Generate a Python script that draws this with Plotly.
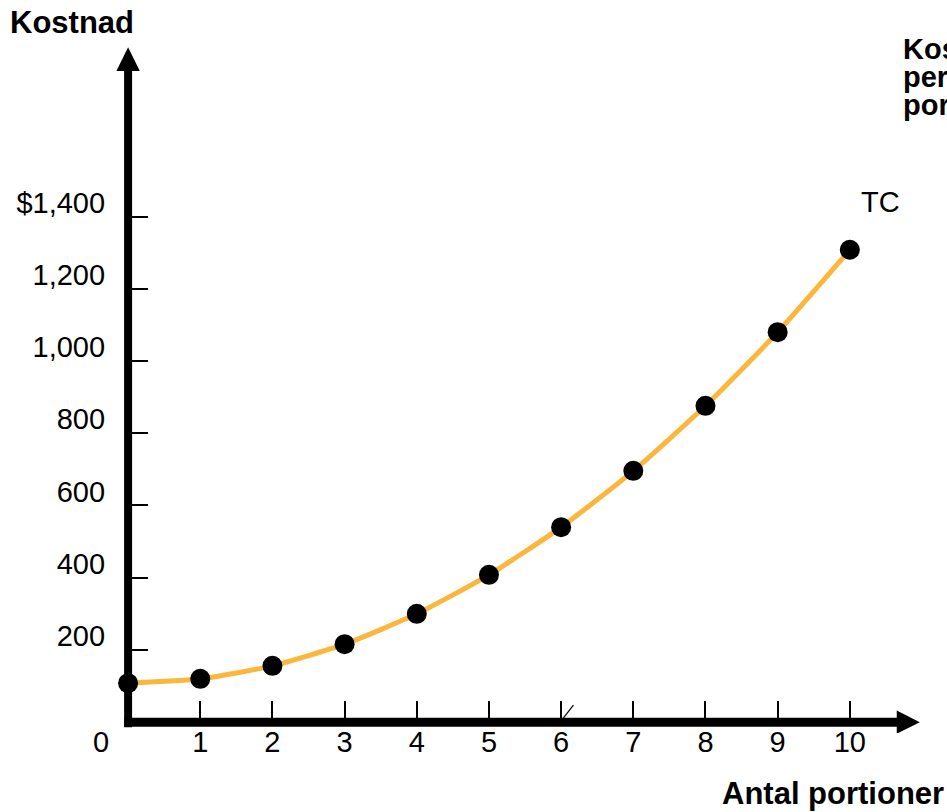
import plotly.graph_objects as go

# Total cost of producing salsa, by number of portions
portions = [0, 1, 2, 3, 4, 5, 6, 7, 8, 9, 10]
total_cost = [108, 120, 156, 216, 300, 408, 540, 696, 876, 1080, 1308]

x_tick_vals = [1, 2, 3, 4, 5, 6, 7, 8, 9, 10]
x_tick_text = ["1", "2", "3", "4", "5", "6", "7", "8", "9", "10"]
y_tick_vals = [200, 400, 600, 800, 1000, 1200, 1400]
y_tick_text = ["200", "400", "600", "800", "1,000", "1,200", "$1,400"]

W, H = 947, 812
ML, MR, MT, MB = 92, 25, 36, 79
X_RANGE = [-0.5, 11.0]
Y_RANGE = [-30, 1900]

FONT = "Liberation Sans, Arial, Helvetica, sans-serif"
ORANGE = "#FBB63C"
TICK_SIZE = 29

plot_w = W - ML - MR
plot_h = H - MT - MB


def paper_x(px):
    return (px - ML) / plot_w


def paper_y(py):
    return (H - MB - py) / plot_h


# where the data origin sits inside the plotting area
x0_paper = (0 - X_RANGE[0]) / (X_RANGE[1] - X_RANGE[0])
y0_paper = (0 - Y_RANGE[0]) / (Y_RANGE[1] - Y_RANGE[0])

fig = go.Figure()

fig.add_trace(go.Scatter(
    x=portions,
    y=total_cost,
    mode="lines+markers",
    line=dict(color=ORANGE, width=5, shape="spline", smoothing=0.6),
    marker=dict(color="black", size=20),
    cliponaxis=False,
    hoverinfo="x+y",
    showlegend=False,
))

# thick axes with arrowheads
shapes = [
    dict(type="line", xref="x", yref="y", x0=0, x1=0, y0=-14, y1=1805,
         line=dict(color="black", width=8), layer="below"),
    dict(type="path", xref="x", yref="y",
         path="M -0.162,1803 L 0,1869 L 0.162,1803 Z",
         fillcolor="black", line=dict(color="black", width=0), layer="below"),
    dict(type="line", xref="x", yref="y", x0=-0.055, x1=10.67, y0=0, y1=0,
         line=dict(color="black", width=9), layer="below"),
    dict(type="path", xref="x", yref="y",
         path="M 10.65,-32 L 10.97,0 L 10.65,32 Z",
         fillcolor="black", line=dict(color="black", width=0), layer="below"),
    dict(type="line", xref="x", yref="y", x0=6.03, x1=6.17, y0=11, y1=47,
         line=dict(color="black", width=1.2), layer="below"),
]

annotations = [
    dict(text="0", x=0, y=0, xref="x", yref="y", xshift=-27, yshift=-20,
         showarrow=False, font=dict(size=TICK_SIZE, color="black", family=FONT)),
    dict(text="TC", x=10, y=1308, xref="x", yref="y", xshift=31, yshift=48,
         showarrow=False, font=dict(size=TICK_SIZE, color="black", family=FONT)),
    dict(text="<b>Kostnad</b>", x=paper_x(8), y=paper_y(22), xref="paper", yref="paper",
         xanchor="left", yanchor="middle", showarrow=False,
         font=dict(size=31, color="black", family=FONT)),
    dict(text="<b>Antal portioner</b>", x=paper_x(946), y=paper_y(793), xref="paper",
         yref="paper", xanchor="right", yanchor="middle", showarrow=False,
         font=dict(size=31, color="black", family=FONT)),
]
# side label for the per-portion cost, running off the right edge
for word, cy in [("Kostnad", 49), ("per", 77), ("portion", 105)]:
    annotations.append(dict(
        text=f"<b>{word}</b>", x=paper_x(901), y=paper_y(cy), xref="paper", yref="paper",
        xanchor="left", yanchor="middle", showarrow=False,
        font=dict(size=29, color="black", family=FONT)))

fig.update_layout(
    width=W,
    height=H,
    margin=dict(l=ML, r=MR, t=MT, b=MB, pad=0),
    paper_bgcolor="white",
    plot_bgcolor="white",
    font=dict(family=FONT, size=TICK_SIZE, color="black"),
    shapes=shapes,
    annotations=annotations,
    xaxis=dict(
        range=X_RANGE,
        anchor="free",
        position=y0_paper,
        showgrid=False,
        zeroline=False,
        showline=False,
        tickmode="array",
        tickvals=x_tick_vals,
        ticktext=x_tick_text,
        ticks="inside",
        ticklen=21,
        tickwidth=1.5,
        tickcolor="black",
        tickfont=dict(size=TICK_SIZE, color="black", family=FONT),
        ticklabelstandoff=0,
    ),
    yaxis=dict(
        range=Y_RANGE,
        anchor="free",
        position=x0_paper,
        showgrid=False,
        zeroline=False,
        showline=False,
        tickmode="array",
        tickvals=y_tick_vals,
        ticktext=y_tick_text,
        ticks="inside",
        ticklen=19,
        tickwidth=1.5,
        tickcolor="black",
        tickfont=dict(size=TICK_SIZE, color="black", family=FONT),
        ticklabelshift=-14,
        ticklabelstandoff=23,
    ),
)

fig.write_html("out.html")
